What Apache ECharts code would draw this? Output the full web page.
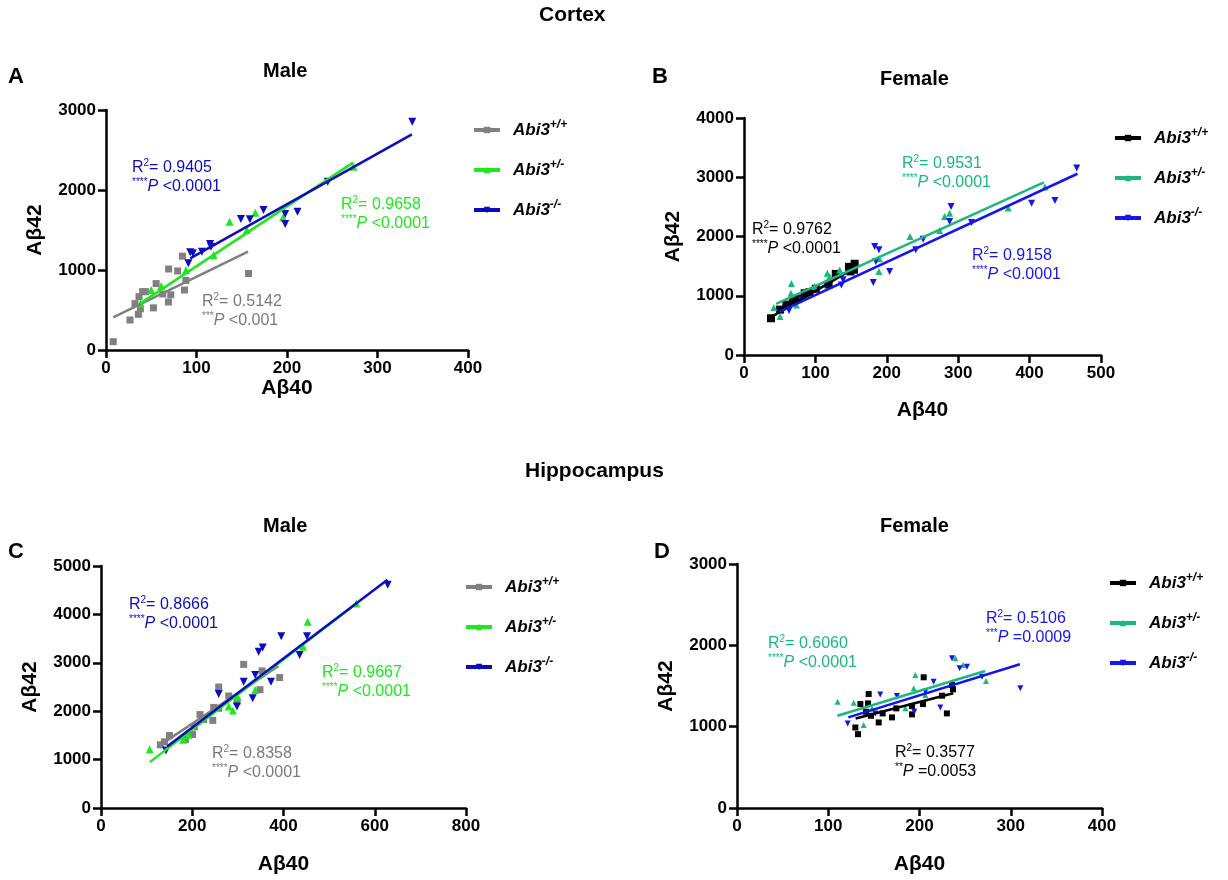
<!DOCTYPE html>
<html>
<head>
<meta charset="utf-8">
<title>Abi3 Aβ40 vs Aβ42</title>
<script src="https://cdn.jsdelivr.net/npm/echarts@6/dist/echarts.min.js"></script>
<style>
  html, body { margin: 0; padding: 0; background: #fff; }
  #chart { width: 1228px; height: 880px; }
</style>
</head>
<body>
<div id="chart"></div>
<script>
const FONT = '"Liberation Sans", Arial, sans-serif'

const genotypes = ['+/+', '+/-', '-/-']

// A: cortex, male  [Aβ40, Aβ42]
const cortexMaleWT = [[8, 104], [26.5, 375], [35.8, 446], [32, 580], [38, 515], [36.5, 667], [40.5, 729], [43.5, 729], [52.4, 527], [55.4, 830], [62.8, 700], [69, 600], [71.6, 690], [69.2, 1012], [79.2, 988], [84.5, 1173], [86.7, 750], [88.3, 870], [157.5, 956]]
const cortexMaleHet = [[38.2, 580], [50, 750], [61, 800], [88.5, 1000], [118.8, 1188], [136.5, 1604], [155.7, 1500], [165, 1717], [195.6, 1656], [273.5, 2292]]
const cortexMaleKO = [[91, 1083], [93, 1221], [96, 1208], [106, 1229], [115, 1325], [116, 1290], [149, 1638], [159, 1633], [174, 1750], [198, 1575], [198, 1700], [211.6, 1729], [245, 2104], [338.4, 2854]]
const cortexMaleFit = [[[8, 408], [157, 1229]], [[38, 583], [273, 2342]], [[93, 1146], [338, 2696]]]

// B: cortex, female
const cortexFemaleWT = [[37.8, 620], [50.5, 766], [59.3, 850], [68.7, 907], [75, 950], [85, 1042], [91.5, 1060], [100.5, 1118], [118.5, 1190], [128.5, 1369], [147, 1488], [155, 1540], [154, 1440], [149, 1410]]
const cortexFemaleHet = [[41.8, 803], [50.5, 648], [66.4, 1205], [65.7, 1042], [73.4, 845], [99, 1155], [116.6, 1380], [120, 1324], [134, 1436], [189, 1408], [189.5, 1625], [232.5, 2000], [274, 2101], [281, 2338], [288, 2394], [370, 2479], [421.5, 2834]]
const cortexFemaleKO = [[63, 749], [80.4, 930], [115, 1183], [136.4, 1183], [138.8, 1268], [181, 1222], [183, 1831], [189, 1775], [184.6, 1577], [204, 1408], [240.6, 1775], [251, 1955], [288, 2253], [290, 2507], [318.7, 2236], [402.8, 2563], [435.5, 2608], [466, 3155]]
const cortexFemaleFit = [[[38, 640], [156, 1480]], [[45, 862], [420, 2913]], [[50, 732], [467, 3059]]]

// C: hippocampus, male
const hippoMaleWT = [[130, 1305], [139, 1367], [150, 1497], [185, 1415], [200.5, 1518], [204.6, 1676], [217, 1930], [225, 1827], [245, 1810], [247, 2078], [258, 2500], [258, 2060], [280, 2315], [298, 2198], [312.7, 2967], [348.4, 2445], [353, 2832], [391.6, 2695]]
const hippoMaleHet = [[106.7, 1216], [180, 1408], [192, 1511], [280, 2095], [289, 2012], [299.5, 2301], [338, 2438], [442.7, 3331], [453, 3846], [559.6, 4224]]
const hippoMaleKO = [[142.5, 1188], [258, 2356], [298, 2095], [312.7, 2610], [332.4, 2266], [338, 2747], [345.6, 3228], [354.4, 3317], [372.6, 2610], [395, 3551], [435.4, 3159], [451.5, 3551], [628.3, 4615]]
const hippoMaleFit = [[[141, 1372], [389, 2933]], [[107, 948], [560, 4224]], [[145, 1270], [628, 4718]]]

// D: hippocampus, female
const hippoFemaleWT = [[129.7, 990], [132.6, 908], [135.2, 1278], [141.4, 1184], [144.3, 1401], [143.6, 1286], [146.8, 1134], [155.3, 1052], [159.6, 1163], [169.9, 1114], [174.6, 1225], [191.8, 1151], [191.8, 1253], [203.8, 1278], [204.6, 1607], [224.7, 1381], [230, 1163], [235.6, 1512], [236.7, 1459]]
const hippoFemaleHet = [[110.3, 1307], [127.9, 1295], [138.8, 1019], [148, 1225], [184.5, 1225], [193.6, 1471], [195.4, 1636], [206.4, 1389], [239.3, 1841], [247.7, 1759], [272.9, 1562]]
const hippoFemaleKO = [[121.3, 1040], [151.6, 1163], [157, 1397], [175.3, 1377], [194.3, 1184], [206.4, 1430], [215.5, 1553], [222.8, 1237], [235.6, 1841], [244, 1718], [252, 1738], [268.5, 1615], [310.5, 1471]]
const hippoFemaleFit = [[[130, 1101], [237, 1410]], [[110, 1134], [272, 1685]], [[122, 1114], [310, 1767]]]

// R² / P per group (wt, het, ko)
const cortexMaleStats = [['0.5142', '***', '<0.001'], ['0.9658', '****', '<0.0001'], ['0.9405', '****', '<0.0001']]
const cortexFemaleStats = [['0.9762', '****', '<0.0001'], ['0.9531', '****', '<0.0001'], ['0.9158', '****', '<0.0001']]
const hippoMaleStats = [['0.8358', '****', '<0.0001'], ['0.9667', '****', '<0.0001'], ['0.8666', '****', '<0.0001']]
const hippoFemaleStats = [['0.3577', '**', '=0.0053'], ['0.6060', '****', '<0.0001'], ['0.5106', '***', '=0.0009']]

const maleColors = ['#808080', '#1EE81E', '#0C0CBE']
const femaleColors = ['#000000', '#1AB87E', '#1414F0']
const symbols = ['rect', 'triangle', 'triangle']
const rotations = [0, 0, 180]

const panels = [
  {
    grid: { left: 106, top: 110, width: 362, height: 240 },
    xMax: 400, xInterval: 100, yMax: 3000, yInterval: 1000, xNameGap: 27,
    groups: [cortexMaleWT, cortexMaleHet, cortexMaleKO], fits: cortexMaleFit, stats: cortexMaleStats,
    colors: maleColors, sizes: [7, 8, 8],
    legend: { left: 472, top: 119 },
    notes: [[202, 292], [341, 195.5], [132, 158.5]]
  },
  {
    grid: { left: 744, top: 118, width: 357, height: 237 },
    xMax: 500, xInterval: 100, yMax: 4000, yInterval: 1000, xNameGap: 45,
    groups: [cortexFemaleWT, cortexFemaleHet, cortexFemaleKO], fits: cortexFemaleFit, stats: cortexFemaleStats,
    colors: femaleColors, sizes: [8, 7, 7],
    legend: { left: 1113, top: 127 },
    notes: [[752, 220], [902, 154], [972, 246]]
  },
  {
    grid: { left: 101, top: 566, width: 365, height: 242 },
    xMax: 800, xInterval: 200, yMax: 5000, yInterval: 1000, xNameGap: 46,
    groups: [hippoMaleWT, hippoMaleHet, hippoMaleKO], fits: hippoMaleFit, stats: hippoMaleStats,
    colors: maleColors, sizes: [7, 8, 8],
    legend: { left: 464, top: 576 },
    notes: [[212, 744], [322, 663], [129, 595.5]]
  },
  {
    grid: { left: 737, top: 564, width: 365, height: 244 },
    xMax: 400, xInterval: 100, yMax: 3000, yInterval: 1000, xNameGap: 46,
    groups: [hippoFemaleWT, hippoFemaleHet, hippoFemaleKO], fits: hippoFemaleFit, stats: hippoFemaleStats,
    colors: femaleColors, sizes: [6, 6, 6],
    legend: { left: 1108, top: 572 },
    notes: [[895, 743], [768, 634], [986, 609]]
  }
]

const headings = [
  { text: 'Cortex', left: 539, top: 5, size: 21 },
  { text: 'Hippocampus', left: 525, top: 461, size: 21 },
  { text: 'A', left: 8, top: 66, size: 22 },
  { text: 'B', left: 652, top: 66, size: 22 },
  { text: 'C', left: 8, top: 541, size: 22 },
  { text: 'D', left: 654, top: 541, size: 22 },
  { text: 'Male', left: 263, top: 61, size: 20 },
  { text: 'Female', left: 880, top: 69, size: 20 },
  { text: 'Male', left: 263, top: 516, size: 20 },
  { text: 'Female', left: 880, top: 516, size: 20 }
]

const chart = echarts.init(document.getElementById('chart'))

const grids = []
const xAxes = []
const yAxes = []
const legends = []
const series = []
const titles = []

const axisCommon = {
  axisLine: { show: true, lineStyle: { color: '#000', width: 2.5 } },
  axisTick: { show: true, length: 8, lineStyle: { color: '#000', width: 2.5 } },
  axisLabel: { color: '#000', fontSize: 17, fontWeight: 'bold', fontFamily: FONT, margin: 10, formatter: v => String(v) },
  splitLine: { show: false },
  nameTextStyle: { color: '#000', fontSize: 21, fontWeight: 'bold', fontFamily: FONT }
}

headings.forEach(h => {
  titles.push({
    text: h.text, left: h.left, top: h.top, padding: 0,
    textStyle: { fontSize: h.size, fontWeight: 'bold', color: '#000', fontFamily: FONT }
  })
})

panels.forEach((p, pi) => {
  grids.push(Object.assign({ outerBoundsMode: 'none', containLabel: false }, p.grid))
  xAxes.push(Object.assign({
    gridIndex: pi, type: 'value', min: 0, max: p.xMax, interval: p.xInterval,
    name: 'Aβ40', nameLocation: 'middle', nameGap: p.xNameGap
  }, axisCommon))
  yAxes.push(Object.assign({
    gridIndex: pi, type: 'value', min: 0, max: p.yMax, interval: p.yInterval,
    name: 'Aβ42', nameLocation: 'middle', nameGap: 60, nameRotate: 90
  }, axisCommon))

  const names = genotypes.map(g => pi + ':' + g)

  // fit lines first so the legend takes their line+symbol icon
  p.fits.forEach((fit, gi) => {
    series.push({
      name: names[gi], type: 'line', xAxisIndex: pi, yAxisIndex: pi,
      data: fit, showSymbol: false, symbol: symbols[gi], symbolRotate: rotations[gi],
      lineStyle: { color: p.colors[gi], width: 2.5 }, itemStyle: { color: p.colors[gi] },
      z: 3, silent: true
    })
  })
  p.groups.forEach((pts, gi) => {
    series.push({
      name: names[gi], type: 'scatter', xAxisIndex: pi, yAxisIndex: pi,
      data: pts, symbol: symbols[gi], symbolRotate: rotations[gi], symbolSize: p.sizes[gi],
      itemStyle: { color: p.colors[gi], opacity: 1 }, z: 2
    })
  })

  legends.push({
    data: names, left: p.legend.left, top: p.legend.top, orient: 'vertical',
    padding: 0, itemGap: 20.5, itemWidth: 26, itemHeight: 8,
    lineStyle: { width: 4 }, selectedMode: false,
    formatter: name => '{g|Abi3}{s|' + name.split(':')[1] + '}',
    textStyle: {
      rich: {
        g: { fontFamily: FONT, fontSize: 17, fontWeight: 'bold', fontStyle: 'italic', color: '#000', lineHeight: 22, padding: [0, 0, 0, 8] },
        s: { fontFamily: FONT, fontSize: 12, fontWeight: 'bold', fontStyle: 'italic', color: '#000', lineHeight: 12, verticalAlign: 'top' }
      }
    }
  })

  p.stats.forEach((st, gi) => {
    const c = p.colors[gi] === '#808080' ? '#7a7a7a' : p.colors[gi]
    titles.push({
      text: '{n|R}{u|2}{n|= ' + st[0] + '}\n{u|' + st[1] + '}{p|P}{n| ' + st[2] + '}',
      left: p.notes[gi][0], top: p.notes[gi][1], padding: 0,
      textStyle: {
        fontWeight: 'normal',
        rich: {
          n: { fontFamily: FONT, fontSize: 16, fontWeight: 'normal', color: c, lineHeight: 19 },
          p: { fontFamily: FONT, fontSize: 16, fontWeight: 'normal', fontStyle: 'italic', color: c, lineHeight: 19 },
          u: { fontFamily: FONT, fontSize: 10, fontWeight: 'normal', color: c, lineHeight: 10, verticalAlign: 'top' }
        }
      }
    })
  })
})

chart.setOption({
  animation: false,
  backgroundColor: '#fff',
  title: titles,
  grid: grids,
  xAxis: xAxes,
  yAxis: yAxes,
  legend: legends,
  series: series
})

window.addEventListener('resize', () => chart.resize())
</script>
</body>
</html>
